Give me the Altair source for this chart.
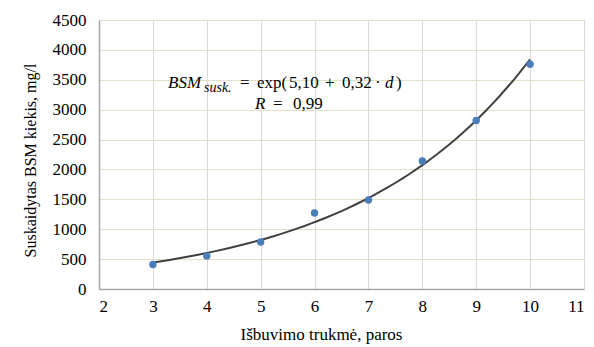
import altair as alt
import pandas as pd

days = [3, 4, 5, 6, 7, 8, 9, 10]
bsm = [410, 550, 785, 1270, 1490, 2140, 2820, 3760]

df = pd.DataFrame({"d": days, "v": bsm})
FONT = "Liberation Serif"

base = alt.Chart(df)

x = alt.X("d:Q", scale=alt.Scale(domain=[2, 11], nice=False),
          axis=alt.Axis(values=list(range(2, 12)), format="d", title="Išbuvimo trukmė, paros",
                        grid=True, gridColor="#d9d9d9", gridWidth=1,
                        domainColor="#a6a6a6", domainWidth=1.5, ticks=False,
                        labelFont=FONT, labelFontSize=17, labelColor="#000000",
                        labelPadding=9, titleFont=FONT, titleFontSize=17,
                        titleFontWeight="normal", titleColor="#000000", titlePadding=12,
                        titleX=222))
y = alt.Y("v:Q", scale=alt.Scale(domain=[0, 4500], nice=False),
          axis=alt.Axis(values=list(range(0, 4501, 500)), format="d",
                        title="Suskaidytas BSM kiekis,  mg/l",
                        grid=True, gridColor="#e6e0c6", gridWidth=1.2,
                        domainColor="#a6a6a6", domainWidth=1.5, ticks=False,
                        labelFont=FONT, labelFontSize=17, labelColor="#000000",
                        labelPadding=13, titleFont=FONT, titleFontSize=16,
                        titleFontWeight="normal", titleColor="#000000", titlePadding=14,
                        titleY=140))

fit = base.transform_regression("d", "v", method="exp", extent=[3, 10]).mark_line(
    color="#404040", strokeWidth=2).encode(x=x, y=y)

pts = base.mark_circle(size=55, color="#4a7ebb", opacity=1).encode(x=x, y=y)

def txt(s, px, py, size=17, italic=False, align="left"):
    return alt.Chart(pd.DataFrame({"t": [s]})).mark_text(
        font=FONT, fontSize=size, fontStyle="italic" if italic else "normal",
        align=align, baseline="alphabetic", color="#000000").encode(
        x=alt.value(px), y=alt.value(py), text="t:N")

ann = (txt("BSM", 69, 68, 17, True) + txt("susk.", 105, 72, 14, True)
       + txt("=", 141, 68) + txt("exp(", 158, 68) + txt("5,10", 190, 68)
       + txt("+", 226, 68) + txt("0,32", 243, 68) + txt("·", 276, 68)
       + txt("d", 286, 68, 17, True) + txt(")", 297, 68)
       + txt("R", 156, 89, 17, True) + txt("=", 174, 89) + txt("0,99", 194, 89))

chart = (fit + pts + ann).properties(
    width=485, height=269,
    autosize=alt.AutoSizeParams(type="none"),
    padding={"left": 99, "top": 20, "right": 10, "bottom": 58},
).configure_view(stroke=None).configure(background="#ffffff")

chart.save("out.html", embed_options={"renderer": "svg", "actions": False})
